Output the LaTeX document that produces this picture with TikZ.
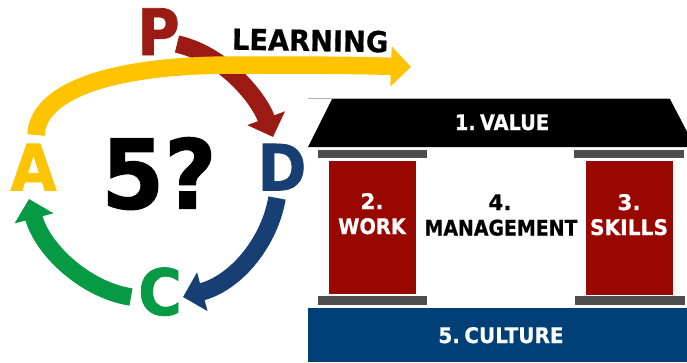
\documentclass[tikz,border=0pt]{standalone}
\usepackage{fontspec}
\usepackage{graphicx}
\setmainfont{DejaVu Sans}[BoldFeatures={FakeBold=0.6}]
\newfontfamily\bigbold{DejaVu Sans Bold}[FakeBold=1.2]
\usetikzlibrary{arrows.meta}
\definecolor{pdred}{HTML}{9B1B14}
\definecolor{pdblue}{HTML}{173F73}
\definecolor{pdgreen}{HTML}{059A43}
\definecolor{pdyellow}{HTML}{FFC400}
\definecolor{pillar}{HTML}{990800}
\definecolor{base}{HTML}{004076}
\definecolor{bar}{HTML}{4D4D4D}
\tikzset{
  cyc/.style={line width=17.5pt,-{Triangle[length=20pt,width=39pt]}},
  letter/.style={anchor=base,inner sep=0pt,font=\bigbold\fontsize{64}{64}\selectfont},
  lab/.style={anchor=base,inner sep=0pt,font=\bfseries\fontsize{21.5}{21.5}\selectfont},
  barbox/.style={fill=bar,draw=none},
  pillarbox/.style={fill=pillar,draw=none}
}
\newcommand{\sx}[2]{\scalebox{#1}[1]{#2}}
\newcommand{\gap}{\hspace{.22em}}
\begin{document}
\begin{tikzpicture}[x=1pt,y=-1pt]
\useasboundingbox (0,0) rectangle (687,362);
% letters
\node[letter,text=pdred] (P) at (158.5,55) {\sx{.9}{P}};
\node[letter,text=pdblue] (D) at (282,190.5) {\sx{.92}{D}};
\node[letter,text=pdgreen] (C) at (160,315) {\sx{.93}{C}};
\node[letter,text=pdyellow] (A) at (33.5,190.5) {\sx{.93}{A}};
\node[anchor=base,inner sep=0pt,font=\bigbold\fontsize{96}{96}\selectfont] (five) at (159,208.5) {\sx{.94}{5?}};
% connector ends
\coordinate (ps) at (177,44);
\coordinate (pe) at (273,137);
\coordinate (ds) at (277,198);
\coordinate (de) at (183,297);
\coordinate (cs) at (131,297);
\coordinate (ce) at (29,199);
\coordinate (as) at (36,135);
\coordinate (ae) at (411,67);
\draw[cyc,pdred] (ps) .. controls (222,54) and (258,96) .. (pe);
\draw[cyc,pdblue] (ds) .. controls (270,240) and (238,282) .. (de);
\draw[cyc,pdgreen] (cs) .. controls (85,290) and (42,249) .. (ce);
\draw[cyc,pdyellow] (as) .. controls (38,88) and (120,65) .. (233,65) .. controls (290,65) and (350,65) .. (ae);
\node[anchor=base,inner sep=0pt,rotate=-1,font=\bfseries\fontsize{29}{29}\selectfont] (learn) at (310,51) {\sx{.94}{LEARNING}};
% temple
\draw[draw=black!30,line width=.7pt] (308,98.5) -- (670,98.5);
\path[fill=black] (332,99) -- (670,99) -- (695,147) -- (308,147) -- cycle;
\node[lab,text=white] (value) at (502,130) {\sx{.9}{1.\gap VALUE}};
\fill[barbox] (318,150) rectangle (427,158);
\fill[barbox] (574,150) rectangle (684,158);
\fill[barbox] (318,296) rectangle (427,304.5);
\fill[barbox] (575,296) rectangle (685,305);
\fill[pillarbox] (329,161) rectangle (416,294);
\fill[pillarbox] (586,161) rectangle (673,295);
\node[lab,text=white] (w1) at (372,209) {2.};
\node[lab,text=white] (w2) at (372,234) {\sx{.9}{WORK}};
\node[lab,text=white] (s1) at (629,210) {3.};
\node[lab,text=white] (s2) at (629,235) {\sx{.94}{SKILLS}};
\node[lab] (m1) at (500,210) {4.};
\node[lab] (m2) at (501,235.5) {\sx{.88}{MANAGEMENT}};
\fill[fill=base] (308,308) rectangle (687,362);
\node[lab,text=white] (cult) at (501,343) {\sx{.93}{5.\gap CULTURE}};
\end{tikzpicture}
\end{document}
